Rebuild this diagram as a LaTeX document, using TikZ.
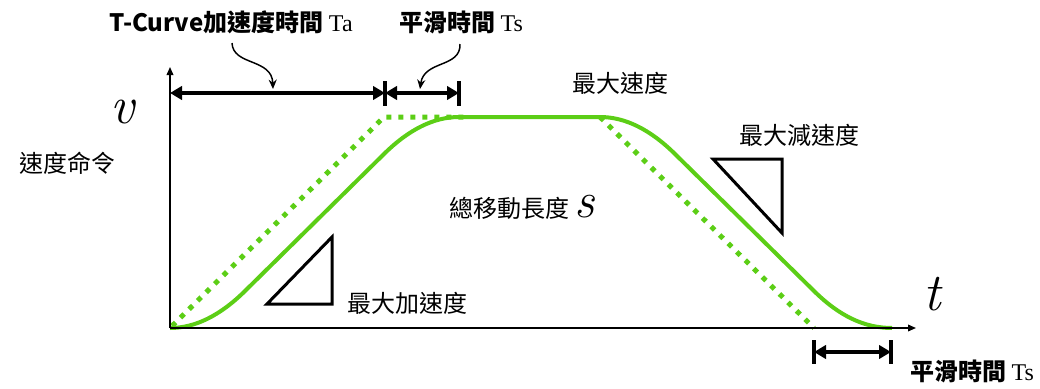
\documentclass[tikz,border=0pt]{standalone}
\usepackage{fontspec}
\newfontfamily\cjk{Noto Sans CJK TC}
\newfontfamily\tms{Liberation Serif}
\usetikzlibrary{arrows.meta}
\definecolor{curvegreen}{RGB}{92,206,22}
\tikzset{
  axis/.style={line width=1.1pt,-{Triangle[length=6pt,width=5pt]}},
  span/.style={line width=3pt,{Triangle[length=9pt,width=10pt]}-{Triangle[length=9pt,width=10pt]}},
  bar/.style={line width=3pt},
  pointer/.style={line width=1.1pt,-{Stealth[length=7pt,width=6pt]}},
  solidcurve/.style={curvegreen,line width=3pt,line join=round},
  dotcurve/.style={curvegreen,line width=3.75pt,dash pattern=on 3.75pt off 5.25pt},
  tri/.style={line width=2.25pt,line join=miter},
  lbl/.style={font=\cjk\fontsize{18}{20}\selectfont,inner sep=0pt},
  blbl/.style={font=\cjk\bfseries\fontsize{18}{20}\selectfont,inner sep=0pt},
  var/.style={font=\rmfamily\itshape\fontsize{40}{44}\selectfont,inner sep=0pt}
}
\begin{document}
\begin{tikzpicture}[x=0.75pt,y=-0.75pt]
\useasboundingbox (0,0) rectangle (1040,389);
% coordinates
\coordinate (O) at (170,328);
\coordinate (ytip) at (170,67);
\coordinate (xtip) at (916,328);
% dotted ideal trapezoid
\draw[dotcurve] (172,326) -- (384,117) -- (466,117);
\draw[dotcurve] (600,117) -- (814,328);
% smoothed curve
\draw[solidcurve] (170,328) .. controls (195,328) and (220,315.7) .. (245,291)
  -- (384,154) .. controls (409,129.3) and (434,117) .. (459,117)
  -- (600,117) .. controls (625,117) and (650,129.3) .. (675,154)
  -- (814,291) .. controls (839,315.7) and (864,328) .. (892,328);
% axes
\draw[axis] (O) -- (ytip);
\draw[axis] (O) -- (xtip);
% top spans
\coordinate (a1) at (170,93);
\coordinate (a2) at (385,93);
\coordinate (a3) at (459,93);
\draw[bar] (385,81) -- (385,106);
\draw[bar] (459,81) -- (459,106);
\draw[span] (a1) -- (a2);
\draw[span] (a2) -- (a3);
% bottom span
\coordinate (b1) at (814,352);
\coordinate (b2) at (891,352);
\draw[bar] (814,340) -- (814,364);
\draw[bar] (891,340) -- (891,364);
\draw[span] (b1) -- (b2);
% labels
\node[blbl] (ta) at (231,22) {T-Curve加速度時間 {\tms\mdseries Ta}};
\node[blbl] (ts) at (461,22) {平滑時間 {\tms\mdseries Ts}};
\node[blbl] (tsb) at (972,371) {平滑時間 {\tms\mdseries Ts}};
\coordinate (p1s) at (232,43);
\coordinate (p1e) at (273,89);
\coordinate (p2s) at (460,44);
\coordinate (p2e) at (420,89);
\draw[pointer] (p1s) .. controls (233,66) and (272,58) .. (p1e);
\draw[pointer] (p2s) .. controls (461,68) and (424,60) .. (p2e);
\node[var] (v) at (122,112) {v};
\node[var] (t) at (932,294) {t};
\node[lbl] (cmd) at (67,163) {速度命令};
\node[lbl] (vmax) at (620,83) {最大速度};
\node[lbl] (dmax) at (799,135) {最大減速度};
\node[lbl] (amax) at (407,303) {最大加速度};
\node[lbl] (dist) at (522,207) {總移動長度 {\rmfamily\itshape\fontsize{38}{40}\selectfont s}};
% triangles
\draw[tri] (267,304) -- (332,304) -- (332,237) -- cycle;
\draw[tri] (713,159) -- (782,159) -- (782,233) -- cycle;
\end{tikzpicture}
\end{document}
